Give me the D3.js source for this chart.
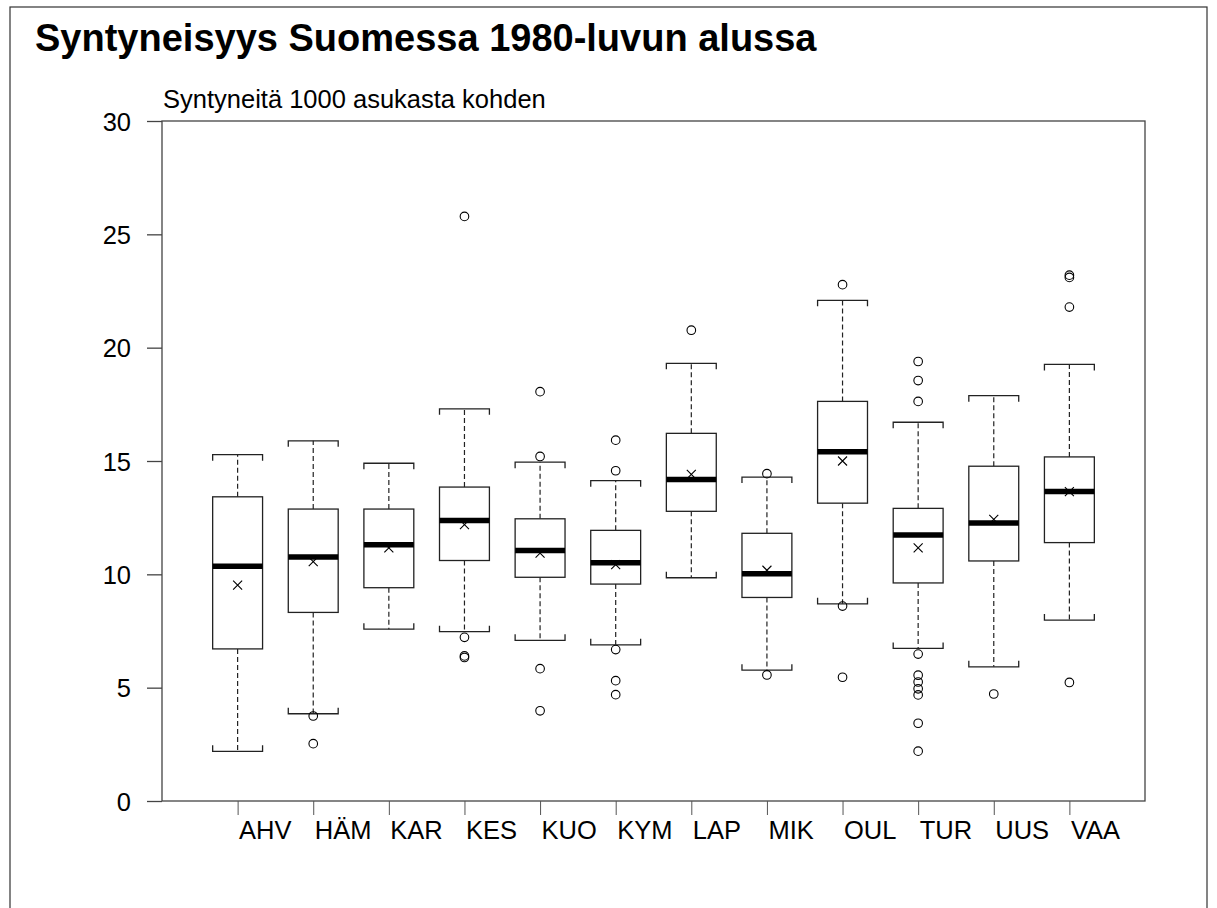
<!DOCTYPE html>
<html>
<head>
<meta charset="utf-8">
<script src="https://cdn.jsdelivr.net/npm/d3@7"></script>
<style>
  body { margin: 0; background: #fff; }
  text { font-family: "Liberation Sans", Arial, sans-serif; fill: #000; }
</style>
</head>
<body>
<div class="container"></div>
<script>
// regions (maakunnat) and box statistics
const regions = ["AHV", "HÄM", "KAR", "KES", "KUO", "KYM", "LAP", "MIK", "OUL", "TUR", "UUS", "VAA"];
const whiskerLow  = [2.19, 3.85, 7.58, 7.47, 7.09, 6.89, 9.85, 5.77, 8.70, 6.73, 5.92, 7.98];
const boxLow      = [6.71, 8.32, 9.41, 10.61, 9.87, 9.57, 12.78, 8.98, 13.14, 9.62, 10.59, 11.40];
const medians     = [10.36, 10.77, 11.30, 12.37, 11.05, 10.51, 14.18, 10.03, 15.41, 11.73, 12.27, 13.65];
const boxHigh     = [13.42, 12.88, 12.88, 13.85, 12.45, 11.94, 16.22, 11.81, 17.63, 12.91, 14.77, 15.18];
const whiskerHigh = [15.28, 15.89, 14.90, 17.30, 14.95, 14.13, 19.31, 14.29, 22.09, 16.71, 17.88, 19.26];
const means       = [9.52, 10.56, 11.17, 12.19, 10.94, 10.43, 14.41, 10.18, 15.00, 11.17, 12.42, 13.65];
const outliers = [
  [],
  [3.75, 2.53],
  [],
  [25.79, 7.22, 6.40, 6.33],
  [18.06, 15.20, 5.84, 3.98],
  [15.92, 14.57, 6.68, 5.31, 4.69],
  [20.77],
  [14.44, 5.56],
  [22.78, 8.60, 5.46],
  [19.39, 18.55, 17.63, 6.48, 5.55, 5.25, 4.95, 4.68, 3.43, 2.20],
  [4.72],
  [23.20, 23.10, 21.79, 5.23]
];
const yTicks = [0, 5, 10, 15, 20, 25, 30];

const width = 1217, height = 908;
const frame = { left: 162, right: 1145, top: 121, bottom: 801 };

const svg = d3.select(".container")
  .append("svg")
  .attr("width", width)
  .attr("height", height);

// outer border of the figure
svg.append("rect")
  .attr("x", 10).attr("y", 7)
  .attr("width", 1197).attr("height", 920)
  .attr("fill", "none").attr("stroke", "#333").attr("stroke-width", 1.2);

svg.append("text")
  .attr("x", 35).attr("y", 51)
  .attr("font-size", 38).attr("font-weight", "bold")
  .text("Syntyneisyys Suomessa 1980-luvun alussa");

svg.append("text")
  .attr("x", 163).attr("y", 108)
  .attr("font-size", 25.5)
  .text("Syntyneitä 1000 asukasta kohden");

// region i sits at position i + 1 on a 0..13 scale
const x = d3.scaleLinear().domain([0, 13]).range([frame.left, frame.right]);
const y = d3.scaleLinear().domain([0, 30]).range([frame.bottom, frame.top]);
const half = (x(0.33) - x(0));

// plot frame
svg.append("rect")
  .attr("x", frame.left).attr("y", frame.top)
  .attr("width", frame.right - frame.left).attr("height", frame.bottom - frame.top)
  .attr("fill", "none").attr("stroke", "#444").attr("stroke-width", 1.3);

// y axis
const yAxis = svg.append("g")
  .attr("transform", `translate(${frame.left},0)`)
  .call(d3.axisLeft(y).tickValues(yTicks).tickSize(15).tickPadding(16).tickFormat(d3.format("d")));
yAxis.select(".domain").remove();
yAxis.selectAll("line").attr("stroke", "#444").attr("stroke-width", 1.3);
yAxis.selectAll("text").attr("font-size", 25.5).attr("font-family", "Liberation Sans, Arial, sans-serif")
  .attr("dy", "0.36em").attr("fill", "#000");

// x axis: ticks below, labels start at the tick
const xAxis = svg.append("g")
  .attr("transform", `translate(0,${frame.bottom})`)
  .call(d3.axisBottom(x).tickValues(d3.range(1, 13)).tickSize(14).tickFormat((d) => regions[d - 1]));
xAxis.select(".domain").remove();
xAxis.selectAll("line").attr("stroke", "#555").attr("stroke-width", 1);
xAxis.selectAll("text")
  .attr("font-size", 25.5).attr("font-family", "Liberation Sans, Arial, sans-serif")
  .attr("text-anchor", "start").attr("x", 1).attr("y", 38).attr("dy", 0).attr("fill", "#000");

// boxes
const boxes = svg.append("g")
  .selectAll("g")
  .data(regions)
  .enter()
  .append("g");

const stroke = "#222";

// dashed whiskers
boxes.append("line")
  .attr("x1", (d, i) => x(i + 1)).attr("x2", (d, i) => x(i + 1))
  .attr("y1", (d, i) => y(boxHigh[i])).attr("y2", (d, i) => y(whiskerHigh[i]))
  .attr("stroke", stroke).attr("stroke-width", 1.2).attr("stroke-dasharray", "5,3");
boxes.append("line")
  .attr("x1", (d, i) => x(i + 1)).attr("x2", (d, i) => x(i + 1))
  .attr("y1", (d, i) => y(boxLow[i])).attr("y2", (d, i) => y(whiskerLow[i]))
  .attr("stroke", stroke).attr("stroke-width", 1.2).attr("stroke-dasharray", "5,3");

// bracket caps
boxes.append("path")
  .attr("d", (d, i) => {
    const cx = x(i + 1), yy = y(whiskerHigh[i]);
    return `M${cx - half},${yy + 6}V${yy}H${cx + half}V${yy + 6}`;
  })
  .attr("fill", "none").attr("stroke", stroke).attr("stroke-width", 1.3);
boxes.append("path")
  .attr("d", (d, i) => {
    const cx = x(i + 1), yy = y(whiskerLow[i]);
    return `M${cx - half},${yy - 6}V${yy}H${cx + half}V${yy - 6}`;
  })
  .attr("fill", "none").attr("stroke", stroke).attr("stroke-width", 1.3);

// box
boxes.append("rect")
  .attr("x", (d, i) => x(i + 1) - half)
  .attr("y", (d, i) => y(boxHigh[i]))
  .attr("width", half * 2)
  .attr("height", (d, i) => y(boxLow[i]) - y(boxHigh[i]))
  .attr("fill", "#fff").attr("stroke", stroke).attr("stroke-width", 1.3);

// median
boxes.append("line")
  .attr("x1", (d, i) => x(i + 1) - half).attr("x2", (d, i) => x(i + 1) + half)
  .attr("y1", (d, i) => y(medians[i])).attr("y2", (d, i) => y(medians[i]))
  .attr("stroke", "#000").attr("stroke-width", 5.5);

// mean marker (x)
boxes.append("path")
  .attr("d", (d, i) => {
    const cx = x(i + 1), cy = y(means[i]), s = 4.5;
    return `M${cx - s},${cy - s}L${cx + s},${cy + s}M${cx - s},${cy + s}L${cx + s},${cy - s}`;
  })
  .attr("stroke", "#000").attr("stroke-width", 1.1);

// outliers
boxes.selectAll("circle")
  .data((d, i) => outliers[i].map((v) => ({ i: i, v: v })))
  .enter()
  .append("circle")
  .attr("cx", (d) => x(d.i + 1))
  .attr("cy", (d) => y(d.v))
  .attr("r", 4.3)
  .attr("fill", "none").attr("stroke", "#000").attr("stroke-width", 1.1);
</script>
</body>
</html>
